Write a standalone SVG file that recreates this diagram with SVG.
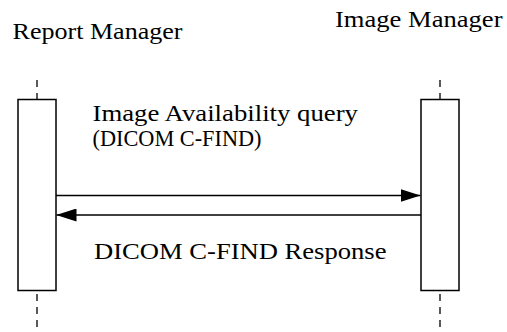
<svg xmlns="http://www.w3.org/2000/svg" width="507" height="332" viewBox="0 0 507 332">
<style>
text{font-family:"Liberation Serif","Times New Roman",serif;font-size:23px;fill:#000}
.life{stroke:#000;stroke-width:1.3;stroke-dasharray:7,6;fill:none}
.box{fill:#fff;stroke:#000;stroke-width:1.5}
.msg{stroke:#000;stroke-width:1.5;fill:none}
</style>
<defs>
<marker id="ah" markerWidth="20" markerHeight="13" refX="20" refY="6.5" orient="auto" markerUnits="userSpaceOnUse">
<path d="M0,0 L20,6.5 L0,13 Z" fill="#000"/>
</marker>
</defs>
<g id="report-manager">
<text x="12.5" y="39" textLength="170" lengthAdjust="spacingAndGlyphs">Report Manager</text>
<line class="life" x1="37" y1="80" x2="37" y2="99.5"/>
<line class="life" x1="37" y1="294" x2="37" y2="332"/>
<rect class="box" x="18" y="99.5" width="38" height="191"/>
</g>
<g id="image-manager">
<text x="335" y="27" textLength="167.5" lengthAdjust="spacingAndGlyphs">Image Manager</text>
<line class="life" x1="440" y1="80" x2="440" y2="99.5"/>
<line class="life" x1="440" y1="294" x2="440" y2="332"/>
<rect class="box" x="421" y="99.5" width="38" height="191"/>
</g>
<g id="connectors">
<line class="msg" x1="56" y1="195.5" x2="420.5" y2="195.5" marker-end="url(#ah)"/>
<line class="msg" x1="421" y1="215" x2="56.5" y2="215" marker-end="url(#ah)"/>
<text x="92.5" y="120.5" textLength="265.5" lengthAdjust="spacingAndGlyphs">Image Availability query</text>
<text x="92.5" y="146" textLength="169" lengthAdjust="spacingAndGlyphs">(DICOM C-FIND)</text>
<text x="94" y="258.5" textLength="292.5" lengthAdjust="spacingAndGlyphs">DICOM C-FIND Response</text>
</g>
</svg>
